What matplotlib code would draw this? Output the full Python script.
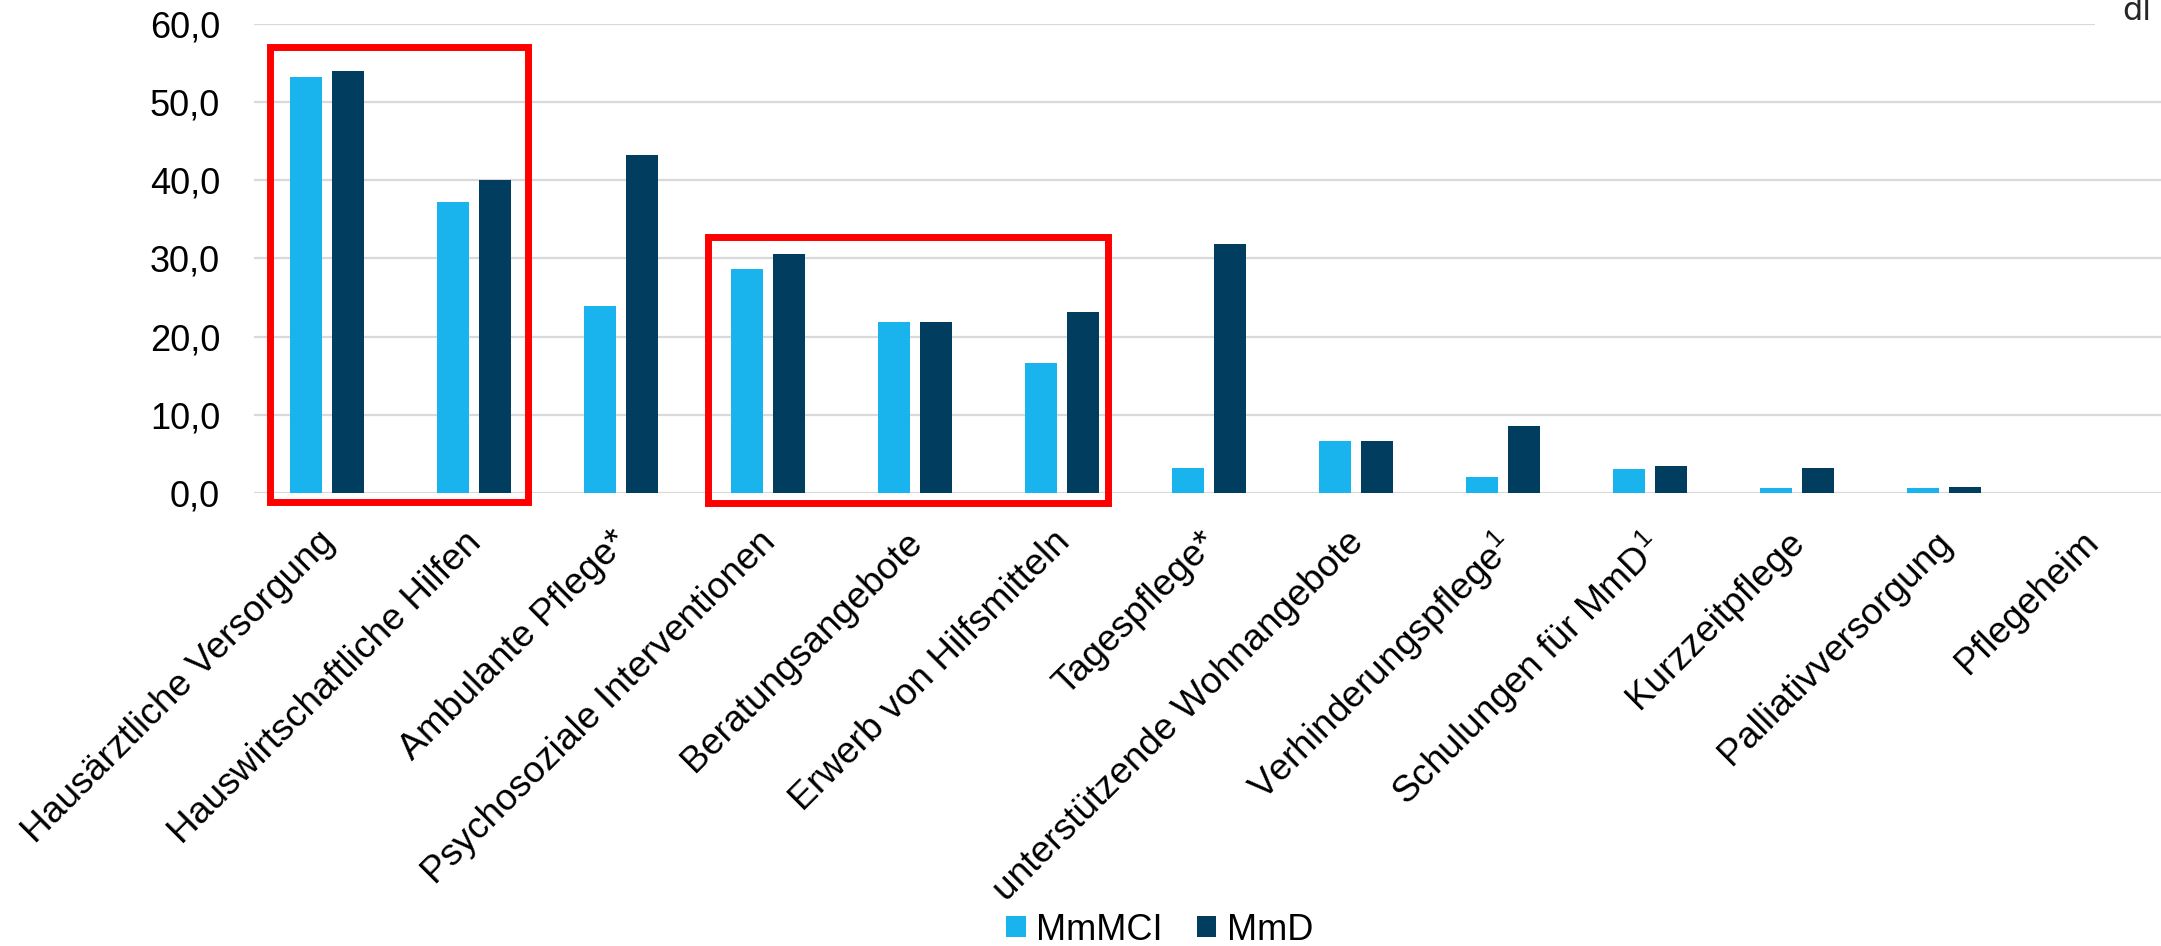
import matplotlib

matplotlib.use("Agg")

import matplotlib.pyplot as plt
import numpy as np
from matplotlib.patches import Rectangle
from matplotlib.ticker import FuncFormatter, MultipleLocator
from matplotlib.transforms import ScaledTranslation


categories = [
    "Hausärztliche Versorgung",
    "Hauswirtschaftliche Hilfen",
    "Ambulante Pflege*",
    "Psychosoziale Interventionen",
    "Beratungsangebote",
    "Erwerb von Hilfsmitteln",
    "Tagespflege*",
    "unterstützende Wohnangebote",
    "Verhinderungspflege$^{1}$",
    "Schulungen für MmD$^{1}$",
    "Kurzzeitpflege",
    "Palliativversorgung",
    "Pflegeheim",
]
mmmci = [53.2, 37.2, 23.9, 28.7, 21.9, 16.6, 3.2, 6.6, 2.0, 3.0, 0.6, 0.6, 0.0]
mmd = [54.0, 40.0, 43.3, 30.6, 21.9, 23.2, 31.9, 6.6, 8.5, 3.4, 3.2, 0.7, 0.0]
series_names = ["MmMCI", "MmD"]

# highlighted category spans (first, last index)
highlight_spans = [(0, 1), (3, 5)]

plt.rcParams["font.family"] = ["Liberation Sans", "DejaVu Sans"]
plt.rcParams["mathtext.fontset"] = "custom"
plt.rcParams["mathtext.rm"] = "Liberation Sans"
plt.rcParams["mathtext.it"] = "Liberation Sans:italic"
plt.rcParams["mathtext.bf"] = "Liberation Sans:bold"

FS = 26
W, H = 2161, 946
fig = plt.figure(figsize=(W / 100, H / 100), dpi=100)
ax = fig.add_axes([253.5 / W, 1 - 492.7 / H, 1911 / W, 468.4 / H])

x = np.arange(len(categories))
bw = 0.218
off = 0.143
ax.bar(x - off, mmmci, bw, color="#19B3EE", label=series_names[0], zorder=3)
ax.bar(x + off, mmd, bw, color="#013D5F", label=series_names[1], zorder=3)

ax.set_xlim(-0.5, len(categories) - 0.5)
ax.set_ylim(0, 60)
ax.yaxis.set_major_locator(MultipleLocator(10))
ax.yaxis.set_major_formatter(FuncFormatter(lambda v, _: f"{v:.1f}".replace(".", ",")))
ax.grid(axis="y", color="#D9D9D9", linewidth=1.6, zorder=0)
ax.set_axisbelow(True)
for s in ax.spines.values():
    s.set_visible(False)
ax.tick_params(axis="y", length=0, pad=24, labelsize=FS)
ax.tick_params(axis="x", length=0, pad=26, labelsize=26.7)
ax.set_xticks(x)
ax.set_xticklabels(categories, rotation=45, ha="right", va="top", rotation_mode="anchor")
shift = ScaledTranslation(-10 / 100, 4 / 100, fig.dpi_scale_trans)
for lbl in ax.get_xticklabels():
    lbl.set_transform(lbl.get_transform() + shift)

# red highlight boxes
box_geo = [(-0.39, 1.37, -1.2, 57.1), (2.595, 5.31, -1.38, 32.8)]
for (first, last), (x0, x1, y0, y1) in zip(highlight_spans, box_geo):
    ax.add_patch(Rectangle((x0, y0), x1 - x0, y1 - y0, fill=False,
                           edgecolor="#FF0000", linewidth=5, clip_on=False, zorder=4))

# cut-off text in top right corner
fig.patches.append(Rectangle((2095 / W, 1 - 40 / H), 70 / W, 40 / H, transform=fig.transFigure,
                             facecolor="white", edgecolor="none", zorder=5))
fig.text(2122 / W, 1 - 20 / H, "dl", fontsize=23, color="#262626",
         ha="left", va="baseline", family="DejaVu Sans", zorder=6)

fig.legend(loc="center", bbox_to_anchor=(1160 / W, 1 - 930 / H), ncol=2, frameon=False,
           fontsize=FS, handlelength=0.53, handleheight=0.53, handletextpad=0.3,
           columnspacing=0.95, borderaxespad=0)

fig.savefig("out.png", dpi=100)
